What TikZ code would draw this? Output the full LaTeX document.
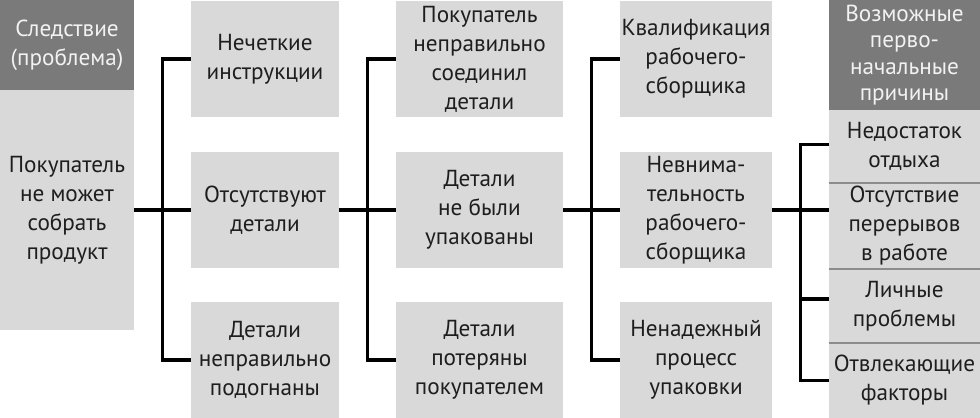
\documentclass[tikz,border=0pt]{standalone}
\usepackage{fontspec}
\setmainfont{PT Sans}
\usetikzlibrary{positioning, calc}
\definecolor{hdgray}{HTML}{7A7A7A}
\definecolor{boxgray}{HTML}{D9D9D9}
\definecolor{sepgray}{HTML}{8C8C8C}
\definecolor{inkgray}{HTML}{1E1E1E}
\definecolor{hdtext}{HTML}{F2F2F2}

\begin{document}
\begin{tikzpicture}[
  x=0.02cm, y=-0.02cm,
  every node/.style={text=inkgray, font=\fontsize{13.2}{16.5}\selectfont},
  box/.style={fill=boxgray, inner sep=0pt, align=center, minimum height=2.32cm},
  hdr/.style={fill=hdgray, text=hdtext, inner sep=0pt, align=center},
  link/.style={line width=1.8pt},
  sep/.style={sepgray, line width=1.2pt},
]

% Canvas
\useasboundingbox[fill=white] (0,0) rectangle (980,418);

% Effect column
\node[hdr, minimum width=2.68cm, minimum height=1.8cm] (effhdr) at (67,45) {Следствие\\(проблема)};
\node[box, minimum width=2.68cm, minimum height=4.8cm] (eff) at (67,210) {Покупатель\\не может\\собрать\\продукт};

% Second column
\node[box, minimum width=2.96cm] (c2a) at (265,59) {Нечеткие\\инструкции};
\node[box, minimum width=2.96cm] (c2b) at (265,210) {Отсутствуют\\детали};
\node[box, minimum width=2.96cm] (c2c) at (265,360) {Детали\\неправильно\\подогнаны};

% Third column
\node[box, minimum width=3.34cm] (c3a) at (479.5,59) {Покупатель\\неправильно\\соединил\\детали};
\node[box, minimum width=3.34cm] (c3b) at (479.5,210) {Детали\\не были\\упакованы};
\node[box, minimum width=3.34cm] (c3c) at (479.5,360) {Детали\\потеряны\\покупателем};

% Fourth column
\node[box, minimum width=3.04cm] (c4a) at (696,59) {Квалификация\\рабочего-\\сборщика};
\node[box, minimum width=3.04cm] (c4b) at (696,210) {Невнима-\\тельность\\рабочего-\\сборщика};
\node[box, minimum width=3.04cm] (c4c) at (696,360) {Ненадежный\\процесс\\упаковки};

% Root causes column
\node[hdr, minimum width=3.02cm, minimum height=2.2cm, font=\fontsize{13.2}{15}\selectfont] (rchdr) at (904.5,55) {Возможные\\перво-\\начальные\\причины};
\node[box, minimum width=3.02cm, minimum height=1.46cm] (c5a) at (904.5,146.5) {Недостаток\\отдыха};
\node[box, minimum width=3.02cm, minimum height=1.72cm] (c5b) at (904.5,226) {Отсутствие\\перерывов\\в работе};
\node[box, minimum width=3.02cm, minimum height=1.48cm] (c5c) at (904.5,306) {Личные\\проблемы};
\node[box, minimum width=3.02cm, minimum height=1.5cm] (c5d) at (904.5,380.5) {Отвлекающие\\факторы};
\draw[sep] (c5a.south west) -- (c5a.south east);
\draw[sep] (c5b.south west) -- (c5b.south east);
\draw[sep] (c5c.south west) -- (c5c.south east);

% Connectors
\draw[link] (eff.east) -- (c2b.west);
\draw[link] (c2a.west) -- ++(-28,0) |- (c2c.west);
\draw[link] (c2b.east) -- (c3b.west);
\draw[link] (c3a.west) -- ++(-28,0) |- (c3c.west);
\draw[link] (c3b.east) -- (c4b.west);
\draw[link] (c4a.west) -- ++(-28,0) |- (c4c.west);
\draw[link] (c4b.east) -- (c4b.east -| c5b.west);
\draw[link] ([yshift=1pt]c5a.west) -- ++(-28,0) |- (c5d.west);
\draw[link] ([yshift=4pt]c5c.west) -- ++(-28,0);

\end{tikzpicture}
\end{document}
